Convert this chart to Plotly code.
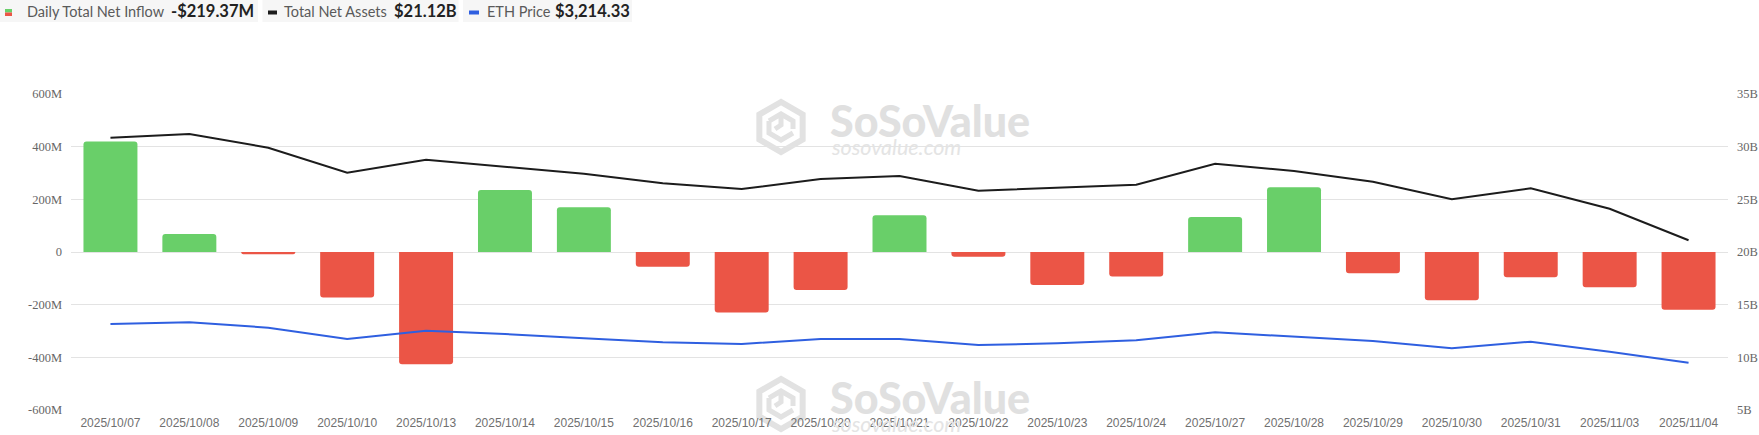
import math
import plotly.graph_objects as go

# ---------------- data ----------------
dates = ["2025/10/07", "2025/10/08", "2025/10/09", "2025/10/10", "2025/10/13", "2025/10/14",
         "2025/10/15", "2025/10/16", "2025/10/17", "2025/10/20", "2025/10/21", "2025/10/22",
         "2025/10/23", "2025/10/24", "2025/10/27", "2025/10/28", "2025/10/29", "2025/10/30",
         "2025/10/31", "2025/11/03", "2025/11/04"]
net_inflow_m = [420, 68, -8.5, -173, -426, 235, 170, -56, -230, -144, 140, -18,
                -125, -93, 133, 246, -81, -183, -96, -134, -219.37]
total_net_assets_b = [30.85, 31.2, 29.9, 27.53, 28.76, 28.1, 27.42, 26.52, 25.98, 26.93, 27.22, 25.82,
                      26.1, 26.39, 28.38, 27.69, 26.67, 25.0, 26.05, 24.11, 21.12]
eth_price = [4462, 4517, 4343, 3979, 4246, 4140, 4001, 3872, 3817, 3979, 3979, 3785,
             3840, 3937, 4195, 4053, 3914, 3679, 3891, 3569, 3214.33]

left_tick_vals = [-600, -400, -200, 0, 200, 400, 600]
left_tick_text = ["-600M", "-400M", "-200M", "0", "200M", "400M", "600M"]
right_tick_vals = [5, 10, 15, 20, 25, 30, 35]
right_tick_text = ["5B", "10B", "15B", "20B", "25B", "30B", "35B"]

legend_labels = ["Daily Total Net Inflow", "Total Net Assets", "ETH Price"]
legend_values = ["-$219.37M", "$21.12B", "$3,214.33"]

GREEN = "#69CF69"
RED = "#EB5546"
BLACK = "#1c1c1c"
BLUE = "#2F5FE0"

W, H = 1759, 435
ML, MR, MT, MB = 71, 31, 94, 25
PW, PH = W - ML - MR, H - MT - MB


def px(X):
    return (X - ML) / PW


def py(Y):
    return (H - MB - Y) / PH


fig = go.Figure()

fig.add_trace(go.Bar(
    x=dates, y=net_inflow_m,
    marker=dict(color=[GREEN if v >= 0 else RED for v in net_inflow_m], line=dict(width=0), cornerradius=3),
    name=legend_labels[0], yaxis="y",
))
fig.add_trace(go.Scatter(
    x=dates, y=total_net_assets_b, mode="lines",
    line=dict(color=BLACK, width=2), name=legend_labels[1], yaxis="y2",
))
fig.add_trace(go.Scatter(
    x=dates, y=eth_price, mode="lines",
    line=dict(color=BLUE, width=2), name=legend_labels[2], yaxis="y3",
))

shapes = []
annotations = []


# ---- watermarks ----
def hexagon_path(cx, cy, r):
    pts = []
    for k in range(6):
        a = math.radians(90 + 60 * k)
        pts.append((cx + r * math.cos(a), cy - r * math.sin(a)))
    return "M " + " L ".join(f"{px(x):.5f},{py(y):.5f}" for x, y in pts) + " Z"


def inner_path(cx, cy):
    segs = [
        [(cx - 12, cy - 6), (cx, cy - 13), (cx + 12, cy - 6), (cx + 12, cy + 2)],
        [(cx - 12, cy - 6), (cx - 12, cy + 6), (cx, cy + 13), (cx + 12, cy + 6)],
        [(cx, cy - 13), (cx, cy - 2), (cx - 6, cy + 2)],
    ]
    d = ""
    for s in segs:
        d += "M " + " L ".join(f"{px(x):.5f},{py(y):.5f}" for x, y in s) + " "
    return d


for dy in (0, 277):
    cx, cy = 781, 127 + dy
    shapes.append(dict(type="path", xref="paper", yref="paper", path=hexagon_path(cx, cy, 25),
                       line=dict(color="#e2e2e2", width=6), layer="below"))
    shapes.append(dict(type="path", xref="paper", yref="paper", path=inner_path(cx, cy),
                       line=dict(color="#e2e2e2", width=5), layer="below"))
    annotations.append(dict(xref="paper", yref="paper", x=px(828), y=py(120 + dy), xanchor="left", yanchor="middle",
                            text="SoSoValue", showarrow=False,
                            font=dict(family="Lato", size=43, weight=900, color="#e0e0e0")))
    annotations.append(dict(xref="paper", yref="paper", x=px(829), y=py(147 + dy), xanchor="left", yanchor="middle",
                            text="<i>sosovalue.com</i>", showarrow=False,
                            font=dict(family="Lato", size=21.5, color="#e4e4e4")))

# ---- custom legend ----
boxes = [(0, 258), (262.5, 458.5), (463, 632)]
for (x0, x1) in boxes:
    shapes.append(dict(type="rect", xref="paper", yref="paper", x0=px(x0), x1=px(x1), y0=py(22), y1=py(0),
                       fillcolor="#f6f6f6", line=dict(width=0), layer="below"))
shapes.append(dict(type="rect", xref="paper", yref="paper", x0=px(5), x1=px(12), y0=py(12.5), y1=py(9),
                   fillcolor=GREEN, line=dict(width=0)))
shapes.append(dict(type="rect", xref="paper", yref="paper", x0=px(5), x1=px(12), y0=py(16), y1=py(12.5),
                   fillcolor=RED, line=dict(width=0)))
shapes.append(dict(type="line", xref="paper", yref="paper", x0=px(268), x1=px(277), y0=py(12.5), y1=py(12.5),
                   line=dict(color=BLACK, width=4)))
shapes.append(dict(type="line", xref="paper", yref="paper", x0=px(469), x1=px(479), y0=py(12.5), y1=py(12.5),
                   line=dict(color=BLUE, width=4)))

label_x = [24.5, 282, 484.5]
value_x = [169, 392, 553]
for lx, vx, lab, val in zip(label_x, value_x, legend_labels, legend_values):
    annotations.append(dict(xref="paper", yref="paper", x=px(lx), y=py(12), xanchor="left", yanchor="middle",
                            text=lab, showarrow=False, font=dict(family="Lato", size=14.5, color="#5a5a5a")))
    annotations.append(dict(xref="paper", yref="paper", x=px(vx), y=py(11.5), xanchor="left", yanchor="middle",
                            text=f"<b>{val}</b>", showarrow=False, font=dict(family="Lato", size=16.5, color="#222222")))

axis_font = dict(family="Liberation Serif, Times New Roman, serif", size=12.5, color="#666666")

fig.update_layout(
    width=W, height=H,
    margin=dict(l=ML, r=MR, t=MT, b=MB, pad=0, autoexpand=False),
    paper_bgcolor="white", plot_bgcolor="white",
    showlegend=False,
    bargap=0.316,
    shapes=shapes,
    annotations=annotations,
    xaxis=dict(
        type="category", range=[-0.5, len(dates) - 0.5], automargin=False,
        showgrid=False, zeroline=False, showline=False, ticks="",
        tickfont=dict(family="Liberation Sans, Arial, sans-serif", size=12, color="#707070"),
        ticklabelstandoff=4,
    ),
    yaxis=dict(
        range=[-600, 600], tickvals=left_tick_vals, ticktext=left_tick_text, automargin=False,
        showgrid=True, gridcolor="#e3e3e3", gridwidth=1, zeroline=False, showline=False,
        tickfont=axis_font, ticks="", ticklabelstandoff=8,
    ),
    yaxis2=dict(
        range=[5, 35], tickvals=right_tick_vals, ticktext=right_tick_text, automargin=False,
        overlaying="y", side="right", showgrid=False, zeroline=False, showline=False,
        tickfont=axis_font, ticks="", ticklabelstandoff=8,
    ),
    yaxis3=dict(
        range=[1688, 11882], overlaying="y", side="right", visible=False, automargin=False,
        showgrid=False, zeroline=False,
    ),
)

fig.write_html("out.html", config={"displayModeBar": False},
               post_script="document.body.style.margin='0px';document.body.style.overflow='hidden';")
